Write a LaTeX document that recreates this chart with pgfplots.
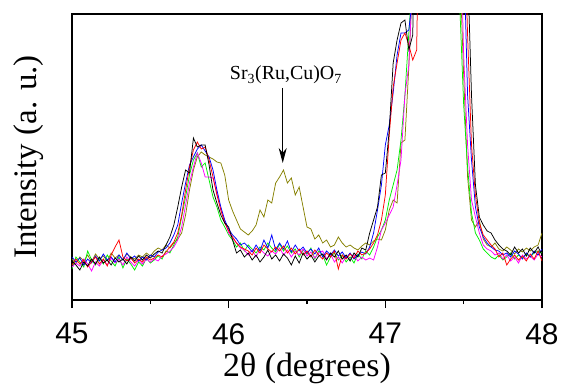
\documentclass[border=0pt]{standalone}
\usepackage{fontspec}
\setmainfont{Liberation Serif}
\newfontfamily\arial{Liberation Sans}
\usepackage{pgfplots}
\pgfplotsset{compat=1.18}
\usepackage{pgfplotstable}
\usetikzlibrary{arrows.meta}
\definecolor{cK}{HTML}{000000}
\definecolor{cR}{HTML}{FF0000}
\definecolor{cB}{HTML}{0000FF}
\definecolor{cM}{HTML}{FF00FF}
\definecolor{cG}{HTML}{00EE00}
\definecolor{cO}{HTML}{858000}
\pgfplotstableread{
x k r b m g o
45.000 34 30 38 28 26 36
45.025 30 36 33 32 38 31
45.050 25 31 37 29 33 38
45.075 33 35 30 36 28 34
45.100 29 28 36 31 44 40
45.125 36 33 32 24 35 33
45.150 31 38 39 33 30 41
45.175 38 31 34 29 37 36
45.200 32 36 41 35 31 39
45.225 35 29 35 30 40 34
45.250 30 40 38 37 34 42
45.275 37 48 33 32 29 37
45.300 33 55 40 36 38 40
45.325 36 38 35 30 27 35
45.350 31 34 42 38 36 41
45.375 38 37 36 33 31 38
45.400 34 32 39 29 25 36
45.425 39 36 34 35 33 40
45.450 35 33 38 31 29 38
45.475 40 38 35 36 37 42
45.500 37 35 40 33 32 39
45.525 41 37 38 36 35 44
45.550 44 40 43 34 39 47
45.575 42 38 45 39 36 45
45.600 50 43 47 41 44 50
45.625 58 48 52 44 42 47
45.650 70 53 60 48 50 52
45.675 88 62 70 55 58 56
45.700 108 80 92 68 78 62
45.725 125 105 112 90 98 80
45.750 122 128 130 112 120 105
45.775 157 145 138 128 135 125
45.800 148 153 146 142 142 138
45.825 150 146 150 132 128 143
45.850 150 148 144 118 132 140
45.875 130 135 138 118 115 138
45.900 105 118 125 117 98 136
45.925 92 100 105 102 88 133
45.950 80 85 88 85 75 132
45.975 72 72 75 74 68 120
46.000 68 64 66 62 60 95
46.025 55 58 60 57 55 84
46.050 42 52 56 52 48 75
46.075 45 48 50 47 52 66
46.100 38 46 52 45 44 63
46.125 42 44 48 40 50 60
46.150 35 40 43 45 46 64
46.175 40 47 50 38 42 70
46.200 33 42 44 46 48 85
46.225 38 50 55 42 45 78
46.250 45 46 47 39 52 95
46.275 36 43 60 44 47 92
46.300 40 48 45 41 43 112
46.325 34 44 52 47 51 118
46.350 41 49 46 40 44 125
46.375 37 42 54 45 49 112
46.400 30 47 43 38 42 117
46.425 39 41 50 44 46 100
46.450 32 46 44 40 38 108
46.475 42 40 48 46 45 88
46.500 36 44 42 39 41 68
46.525 40 38 46 43 47 66
46.550 33 45 41 37 36 56
46.575 39 40 47 42 44 60
46.600 41 36 38 44 40 52
46.625 35 42 44 36 30 55
46.650 42 38 40 41 38 48
46.675 38 44 45 33 42 50
46.700 44 26 39 38 35 58
46.725 36 40 43 32 40 52
46.750 40 36 37 39 33 48
46.775 34 41 42 35 38 50
46.800 42 37 36 40 32 47
46.825 38 44 40 34 41 45
46.850 47 40 43 38 36 49
46.875 45 42 41 35 44 52
46.900 62 46 48 37 40 50
46.925 75 52 62 35 48 54
46.950 88 60 85 48 58 56
46.975 120 75 110 65 65 55
47.000 122 100 150 72 75 65
47.025 165 160 170 80 95 85
47.050 232 208 202 88 110 95
47.075 255 232 240 110 125 92
47.100 272 255 262 135 155 152
47.125 275 262 262 200 200 155
47.150 245 250 265 230 262 228
47.175 260 235 300 320 320 320
47.200 500 245 500 500 500 500
47.225 500 500 500 500 500 500
47.250 500 500 500 500 500 500
47.275 500 500 500 500 500 500
47.300 500 500 500 500 500 500
47.325 500 500 500 500 500 500
47.350 500 500 500 500 500 500
47.375 500 500 500 500 500 500
47.400 500 500 500 500 500 500
47.425 500 500 500 500 500 500
47.450 500 500 500 500 500 500
47.475 500 500 500 400 290 330
47.500 500 400 350 240 190 220
47.525 330 260 200 150 128 118
47.550 200 150 135 95 82 75
47.575 110 100 88 78 62 68
47.600 78 72 68 62 55 75
47.625 70 60 58 50 46 56
47.650 64 55 52 46 42 50
47.675 62 50 48 44 38 48
47.700 55 46 45 40 36 52
47.725 50 38 44 42 40 46
47.750 46 42 40 36 35 44
47.775 44 30 42 40 38 48
47.800 40 36 38 34 42 45
47.825 48 40 44 38 36 41
47.850 42 35 41 32 40 46
47.875 46 39 36 40 37 43
47.900 39 34 42 36 41 47
47.925 47 41 38 39 38 44
47.950 42 36 44 35 42 48
47.975 48 44 40 41 44 50
48.000 40 34 46 38 42 62
}\data
\begin{document}
\begin{tikzpicture}
\useasboundingbox (-72bp,-87bp) rectangle (493bp,300bp);
\begin{axis}[
  scale only axis, width=470bp, height=286bp,
  xmin=45, xmax=48, ymin=-5, ymax=281,
  axis line style={line width=1.4bp},
  every tick/.style={line width=1.2bp, black},
  xtick={45,46,47,48}, minor xtick={45.5,46.5,47.5},
  ytick=\empty,
  tick align=outside, xtick pos=bottom,
  major tick length=8bp, minor tick length=4bp,
  /pgf/number format/assume math mode=true,
  xticklabel style={font=\arial\fontsize{30}{32}\selectfont, anchor=north, inner sep=0pt, yshift=-15bp},
  xlabel={2θ (degrees)},
  xlabel style={font=\fontsize{34}{36}\selectfont, at={(axis description cs:0.5,-0.185)}, anchor=north, inner sep=0pt},
  ylabel={Intensity (a. u.)},
  ylabel style={font=\fontsize{33}{35}\selectfont, at={(axis description cs:-0.06,0.5)}, anchor=south, inner sep=0pt},
  clip=true,
  every axis plot/.append style={line width=0.75bp, mark=none},
]
\addplot[cO] table[x=x,y=o]{\data};
\addplot[cG] table[x=x,y=g]{\data};
\addplot[cM] table[x=x,y=m]{\data};
\addplot[cB] table[x=x,y=b]{\data};
\addplot[cR] table[x=x,y=r]{\data};
\addplot[cK] table[x=x,y=k]{\data};
\draw[line width=1bp, -{Stealth[length=15bp,width=8bp]}] (axis cs:46.345,207) -- (axis cs:46.345,132);
\node[anchor=base, font=\fontsize{20}{22}\selectfont, inner sep=0pt] at (axis cs:46.365,215) {Sr\textsubscript{3}(Ru,Cu)O\textsubscript{7}};
\end{axis}
\end{tikzpicture}
\end{document}
